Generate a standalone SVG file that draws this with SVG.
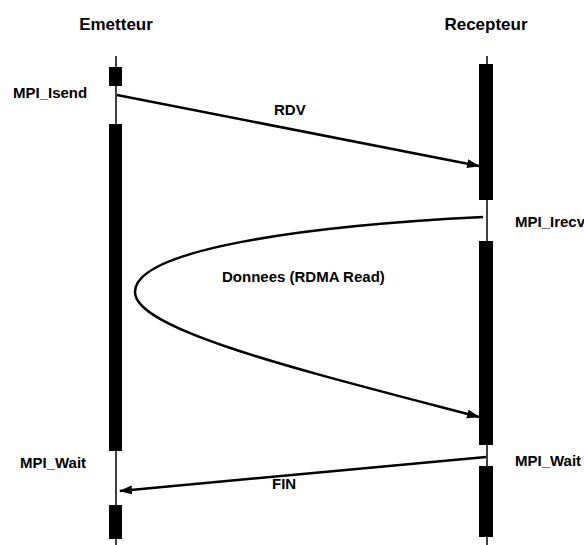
<svg xmlns="http://www.w3.org/2000/svg" width="584" height="545" viewBox="0 0 584 545">
<defs>
<style>
text{font-family:"Liberation Sans",Arial,sans-serif;font-weight:bold;font-size:15px;fill:#000}
.title{font-size:17px}
.life{stroke:#000;stroke-width:1.5;fill:none}
.act{fill:#000;stroke:none}
.msg{stroke:#000;stroke-width:2.5;fill:none;marker-end:url(#ah)}
</style>
<marker id="ah" markerUnits="userSpaceOnUse" markerWidth="14" markerHeight="10" refX="12" refY="4.5" orient="auto">
<path d="M0,0 L13,4.5 L0,9 z" fill="#000"/>
</marker>
</defs>
<rect width="584" height="545" fill="#fff"/>
<g id="emetteur">
<text class="title" x="116" y="30" text-anchor="middle">Emetteur</text>
<line class="life" x1="116" y1="56" x2="116" y2="545"/>
<rect class="act" x="109" y="67" width="13" height="19"/>
<rect class="act" x="109" y="124" width="13" height="327"/>
<rect class="act" x="109" y="505" width="13" height="34"/>
<text x="13" y="98">MPI_Isend</text>
<text x="20" y="468">MPI_Wait</text>
</g>
<g id="recepteur">
<text class="title" x="486" y="30" text-anchor="middle">Recepteur</text>
<line class="life" x1="487" y1="56" x2="487" y2="545"/>
<rect class="act" x="479" y="64" width="14" height="136"/>
<rect class="act" x="479" y="241" width="14" height="204"/>
<rect class="act" x="479" y="466" width="14" height="71"/>
<text x="515" y="227">MPI_Irecv</text>
<text x="515" y="466">MPI_Wait</text>
</g>
<g id="connectors">
<line class="msg" x1="117" y1="95" x2="479" y2="166"/>
<path class="msg" d="M483,217 C300,226 135,250 135,292 C135,330 300,370 479,417"/>
<line class="msg" x1="486" y1="457" x2="120" y2="491"/>
<text x="274" y="115">RDV</text>
<text x="222" y="282">Donnees (RDMA Read)</text>
<text x="272" y="489">FIN</text>
</g>
</svg>
